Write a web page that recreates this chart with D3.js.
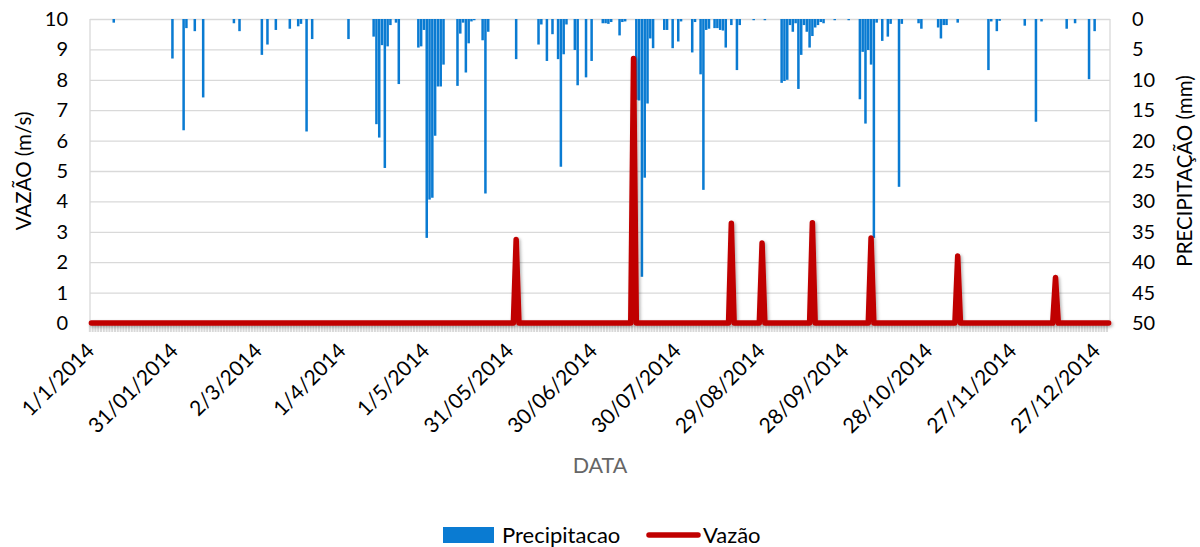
<!DOCTYPE html>
<html>
<head>
<meta charset="utf-8">
<script src="https://cdn.jsdelivr.net/npm/d3@7"></script>
<style>
  body { margin: 0; background: #fff; }
  svg { font-family: Lato, "Open Sans", sans-serif; }
</style>
</head>
<body>
<svg id="chart" width="1200" height="547"></svg>
<script>
// dias com chuva (0 = 1/1/2014) e precipitação em mm
var rainDays = [8, 29, 33, 34, 37, 40, 51, 53, 61, 63, 66, 71, 74, 75, 77, 79, 92,
  101, 102, 103, 104, 105, 106, 107, 109, 110, 117, 118, 119, 120, 121, 122, 123, 124, 125, 126,
  131, 132, 133, 134, 135, 136, 137, 140, 141, 142, 152, 160, 161, 163, 165, 167, 168, 169, 170,
  173, 174, 177, 179, 183, 184, 185, 186, 189, 190, 191, 195, 196, 197, 198, 199, 200, 201,
  205, 206, 208, 210, 211, 215, 216, 218, 219, 220, 221, 223, 224, 225, 226, 227, 229, 231, 232,
  237, 241, 247, 248, 249, 250, 251, 252, 253, 254, 255, 256, 257, 258, 259, 260, 261, 262,
  266, 271, 275, 276, 277, 278, 279, 280, 281, 283, 285, 286, 289, 290, 296, 297, 303, 304,
  305, 306, 310, 321, 322, 324, 325, 334, 338, 340, 349, 352, 357, 359];
var rainMm = [0.6, 6.5, 18.3, 1.5, 2.0, 12.9, 0.7, 2.0, 5.9, 4.2, 1.8, 1.6, 1.2, 0.8, 18.5, 3.3, 3.3,
  2.9, 17.3, 19.5, 4.3, 24.5, 4.5, 1.0, 0.6, 10.7, 4.7, 4.5, 1.8, 36.0, 29.7, 29.4, 19.2, 11.1, 11.1, 7.5,
  11.0, 2.4, 0.6, 8.8, 4.0, 0.4, 0.2, 3.5, 28.7, 2.1, 6.6, 4.2, 0.9, 6.9, 2.5, 6.6, 24.3, 5.8, 0.9,
  5.1, 10.9, 9.6, 6.9, 0.7, 0.7, 0.8, 0.5, 2.7, 0.5, 0.4, 13.3, 13.4, 42.4, 26.1, 13.9, 3.2, 4.8,
  1.8, 1.8, 4.8, 3.7, 0.4, 5.5, 0.5, 9.1, 28.1, 1.8, 1.6, 1.5, 1.5, 1.8, 1.9, 4.7, 1.0, 8.4, 1.0,
  0.2, 0.2, 10.5, 10.2, 10.0, 1.0, 2.1, 0.7, 11.5, 5.9, 1.0, 2.1, 4.7, 2.8, 1.4, 1.0, 0.5, 0.7,
  0.2, 0.2, 13.2, 5.4, 17.2, 5.1, 7.5, 36.0, 0.6, 3.6, 2.9, 0.8, 27.6, 0.8, 0.7, 1.6, 1.4, 3.2,
  1.0, 1.0, 0.6, 8.4, 0.4, 2.0, 0.3, 1.1, 16.9, 0.4, 1.6, 0.7, 9.9, 2.0];

// dias com vazão (m/s), zero nos demais
var flowDays = [152, 194, 229, 240, 258, 279, 310, 345];
var flowValues = [2.75, 8.7, 3.28, 2.63, 3.3, 2.8, 2.2, 1.5];

var nDays = 365;
var tickDays = [0, 30, 60, 90, 120, 150, 180, 210, 240, 270, 300, 330, 360];
var tickLabels = ["1/1/2014", "31/01/2014", "2/3/2014", "1/4/2014", "1/5/2014", "31/05/2014",
  "30/06/2014", "30/07/2014", "29/08/2014", "28/09/2014", "28/10/2014", "27/11/2014", "27/12/2014"];

// séries diárias
var days = d3.range(nDays);
var rain = days.map(function(d) { var k = rainDays.indexOf(d); return k < 0 ? 0 : rainMm[k]; });
var flow = days.map(function(d) { var k = flowDays.indexOf(d); return k < 0 ? 0 : flowValues[k]; });

var plotLeft = 90, plotRight = 1110, plotTop = 19, plotBottom = 323;

var svg = d3.select("#chart");

var defs = svg.append("defs");
var f = defs.append("filter").attr("id", "shadow")
    .attr("x", "-20%").attr("y", "-20%").attr("width", "140%").attr("height", "140%");
f.append("feDropShadow").attr("dx", 1.5).attr("dy", 1.5).attr("stdDeviation", 1.6)
    .attr("flood-color", "#000").attr("flood-opacity", 0.3);

var x = d3.scaleBand().domain(days).range([plotLeft, plotRight]).paddingInner(0.1).paddingOuter(0.05);
var xc = function(d) { return x(d) + x.bandwidth() / 2; };
var yL = d3.scaleLinear().domain([0, 10]).range([plotBottom, plotTop]);
var yR = d3.scaleLinear().domain([0, 50]).range([plotTop, plotBottom]);

// linhas de grade
svg.append("g")
    .attr("transform", "translate(" + plotLeft + ",0)")
    .call(d3.axisLeft(yL).ticks(10).tickSize(-(plotRight - plotLeft)).tickFormat(""))
    .call(function(g) { g.select(".domain").remove(); })
    .selectAll("line").attr("stroke", "#d9d9d9").attr("stroke-width", 1.3);

// bordas verticais
svg.append("line").attr("x1", plotLeft).attr("x2", plotLeft).attr("y1", plotTop).attr("y2", plotBottom)
    .attr("stroke", "#d9d9d9").attr("stroke-width", 1.3);
svg.append("line").attr("x1", plotRight).attr("x2", plotRight).attr("y1", plotTop).attr("y2", plotBottom)
    .attr("stroke", "#d9d9d9").attr("stroke-width", 1.3);

// marcas diárias do eixo x
svg.append("g").selectAll("line")
    .data(days)
    .enter().append("line")
    .attr("x1", function(d) { return x(d) - 0.3; })
    .attr("x2", function(d) { return x(d) - 0.3; })
    .attr("y1", plotBottom + 2)
    .attr("y2", plotBottom + 9)
    .attr("stroke", "#d9d9d9")
    .attr("stroke-width", 2);

// barras de precipitação (penduradas no topo)
svg.append("g").selectAll("rect")
    .data(days.filter(function(d) { return rain[d] > 0; }))
    .enter().append("rect")
    .attr("x", function(d) { return x(d); })
    .attr("y", yR(0))
    .attr("width", x.bandwidth())
    .attr("height", function(d) { return yR(rain[d]) - yR(0); })
    .attr("fill", "#0a7bd2");

// linha de vazão
var line = d3.line()
    .x(function(d) { return xc(d); })
    .y(function(d) { return yL(flow[d]); });

svg.append("path")
    .datum(days)
    .attr("d", line)
    .attr("fill", "none")
    .attr("stroke", "#c00000")
    .attr("stroke-width", 5.5)
    .attr("stroke-linejoin", "round")
    .attr("stroke-linecap", "round")
    .attr("filter", "url(#shadow)");

// eixo esquerdo
svg.append("g")
    .attr("transform", "translate(" + (plotLeft - 22) + ",0)")
    .call(d3.axisLeft(yL).ticks(10).tickSize(0).tickPadding(0))
    .call(function(g) { g.select(".domain").remove(); })
    .selectAll("text").attr("font-size", 20).attr("fill", "#000").attr("font-family", "Lato");

// eixo direito
svg.append("g")
    .attr("transform", "translate(" + (plotRight + 22) + ",0)")
    .call(d3.axisRight(yR).ticks(10).tickSize(0).tickPadding(0))
    .call(function(g) { g.select(".domain").remove(); })
    .selectAll("text").attr("font-size", 20).attr("fill", "#000").attr("font-family", "Lato");

// rótulos do eixo x
svg.append("g").selectAll("text")
    .data(tickDays)
    .enter().append("text")
    .attr("transform", function(d) { return "translate(" + (xc(d) - 1) + "," + (plotBottom + 24) + ") rotate(-45)"; })
    .attr("text-anchor", "end")
    .attr("dy", "0.35em")
    .attr("font-size", 21)
    .text(function(d, i) { return tickLabels[i]; });

// títulos
svg.append("text")
    .attr("transform", "translate(31," + ((plotTop + plotBottom) / 2) + ") rotate(-90)")
    .attr("text-anchor", "middle")
    .attr("font-size", 20.5)
    .text("VAZÃO (m/s)");

svg.append("text")
    .attr("transform", "translate(1192," + ((plotTop + plotBottom) / 2) + ") rotate(-90)")
    .attr("text-anchor", "middle")
    .attr("font-size", 20.5)
    .text("PRECIPITAÇÃO (mm)");

svg.append("text")
    .attr("x", 600)
    .attr("y", 473)
    .attr("text-anchor", "middle")
    .attr("font-size", 21.5)
    .attr("fill", "#666")
    .text("DATA");

// legenda
var legend = svg.append("g");
legend.append("rect")
    .attr("x", 443).attr("y", 527).attr("width", 51).attr("height", 16)
    .attr("fill", "#0a7bd2");
legend.append("text")
    .attr("x", 502).attr("y", 543)
    .attr("font-size", 22)
    .text("Precipitacao");
legend.append("line")
    .attr("x1", 649).attr("x2", 698).attr("y1", 535).attr("y2", 535)
    .attr("stroke", "#c00000").attr("stroke-width", 5.5).attr("stroke-linecap", "round");
legend.append("text")
    .attr("x", 703).attr("y", 543)
    .attr("font-size", 22)
    .text("Vazão");
</script>
</body>
</html>
